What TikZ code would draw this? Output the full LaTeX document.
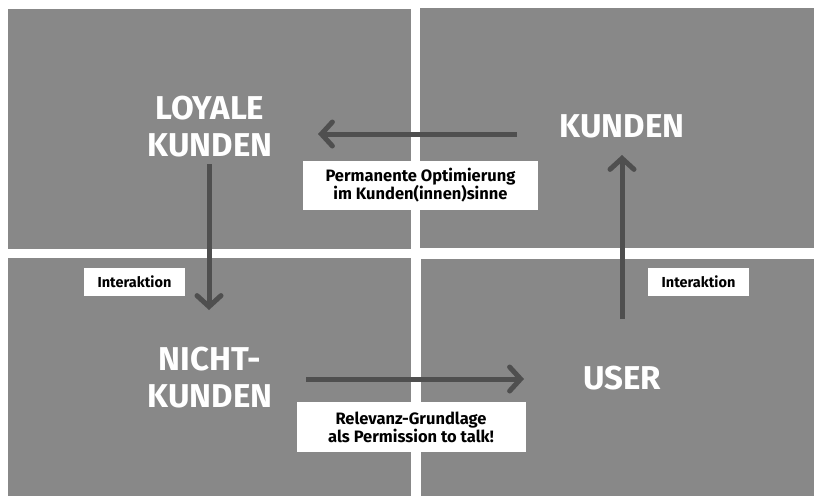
\documentclass[tikz,border=0pt]{standalone}
\usepackage{fontspec}
\setmainfont{Fira Sans}
\usepackage{xcolor}
\usetikzlibrary{arrows.meta,positioning}
\definecolor{quadgray}{HTML}{888888}
\definecolor{arrowgray}{HTML}{4F4F4F}
\tikzset{
	quad/.style={fill=quadgray},
	big/.style={text=white,font=\bfseries\fontsize{33}{37}\selectfont,align=center,inner sep=0pt},
	tag/.style={fill=white,text=black,font=\bfseries\fontsize{16.5}{18}\selectfont,align=center,inner sep=0pt},
	smalltag/.style={tag,font=\bfseries\fontsize{14.5}{17}\selectfont},
	flow/.style={arrowgray,line width=5pt,-{Straight Barb[length=11pt,width=24pt,line cap=round]}}
}

\begin{document}
\begin{tikzpicture}[x=1pt,y=-1pt]
		\useasboundingbox (0,0) rectangle (814,496);
		\fill[white] (0,0) rectangle (814,496);  % background
		\fill[quad] (8,9) rectangle (411,249);  % top left
		\fill[quad] (420,8) rectangle (814,248);  % top right
		\fill[quad] (8,258) rectangle (411,496);  % bottom left
		\fill[quad] (421,259) rectangle (814,496);  % bottom right
		
		\node[big] (loyal) at (210,127) {LOYALE\\KUNDEN};
		\node[big] (kunden) at (622,126) {KUNDEN};
		\node[big] (nicht) at (210,378) {NICHT-\\KUNDEN};
		\node[big] (user) at (622,378) {USER};
		
		\node[tag,minimum width=235pt,minimum height=49pt] (opt) at (420.5,185.5) {Permanente Optimierung\\im Kunden(innen)sinne};
		\node[tag,minimum width=229pt,minimum height=50pt] (rel) at (411,427) {Relevanz-Grundlage\\als Permission to talk!};
		\node[smalltag,minimum width=101pt,minimum height=28pt] (intl) at (134.5,282) {Interaktion};
		\node[smalltag,minimum width=101pt,minimum height=28pt] (intr) at (698.5,282) {Interaktion};
		
		\coordinate (a1) at (517,134);
		\coordinate (a2) at (318,134);
		\coordinate (b1) at (209,164);
		\coordinate (b2) at (209,310);
		\coordinate (c1) at (306,379);
		\coordinate (c2) at (524,379);
		\coordinate (d1) at (622,319);
		\coordinate (d2) at (622,155);
		
		\draw[flow] (a1) -- (a2);  % kunden to loyal
		\draw[flow] (b1) -- (b2);  % loyal to nicht
		\draw[flow] (c1) -- (c2);  % nicht to user
		\draw[flow] (d1) -- (d2);  % user to kunden
\end{tikzpicture}
\end{document}
